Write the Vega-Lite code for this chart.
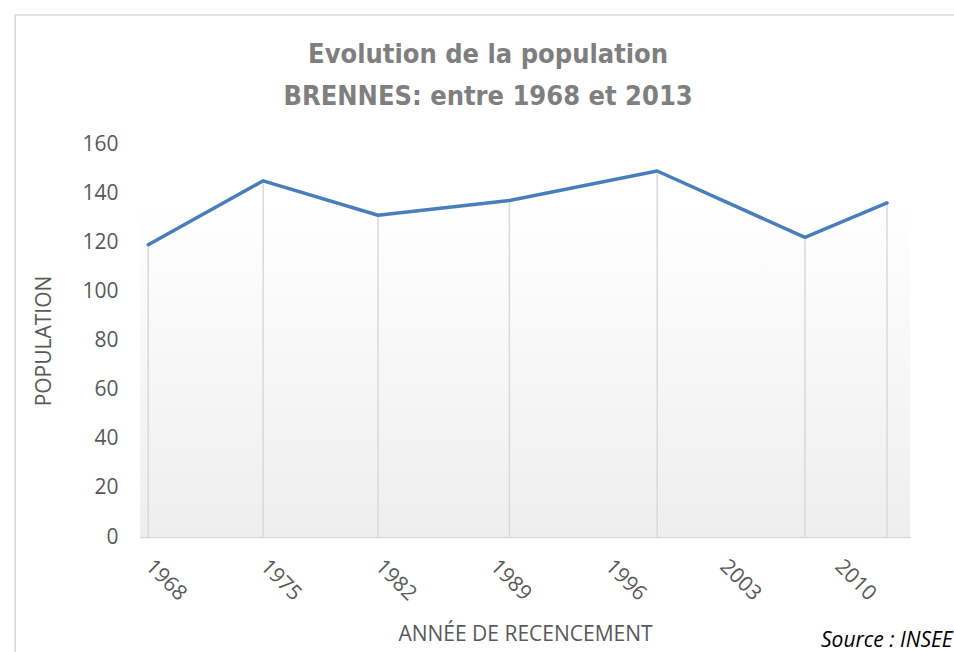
{
  "$schema": "https://vega.github.io/schema/vega-lite/v6.json",
  "width": 770,
  "height": 393,
  "autosize": {"type": "none"},
  "padding": {"left": 140, "top": 144, "right": 44, "bottom": 115},
  "background": "white",
  "config": {
    "view": {"stroke": null},
    "axis": {
      "labelFont": "Open Sans",
      "titleFont": "Open Sans",
      "labelColor": "#595959",
      "titleColor": "#595959",
      "grid": false,
      "ticks": false
    }
  },
  "data": {
    "values": [
      {"annee": 1968, "population": 119},
      {"annee": 1975, "population": 145},
      {"annee": 1982, "population": 131},
      {"annee": 1990, "population": 137},
      {"annee": 1999, "population": 149},
      {"annee": 2008, "population": 122},
      {"annee": 2013, "population": 136}
    ]
  },
  "layer": [
    {
      "data": {"values": [{"a": 1}]},
      "mark": {
        "type": "rect",
        "fill": {
          "gradient": "linear",
          "x1": 0, "y1": 0, "x2": 0, "y2": 1,
          "stops": [
            {"offset": 0, "color": "#ffffff"},
            {"offset": 0.15, "color": "#ffffff"},
            {"offset": 1, "color": "#eeeeee"}
          ]
        }
      },
      "encoding": {
        "x": {"datum": 1967.5, "type": "quantitative", "scale": {"domain": [1967.5, 2014.4], "nice": false, "zero": false},
          "axis": {
            "values": [1968, 1975, 1982, 1989, 1996, 2003, 2010],
            "format": "d",
            "title": "ANNÉE DE RECENCEMENT",
            "titleFontSize": 21,
            "titleFontWeight": "normal",
            "titlePadding": 19,
            "labelFontSize": 21,
            "labelAngle": 45,
            "labelAlign": "left",
            "labelBaseline": "middle",
            "labelPadding": 26,
            "domainColor": "#d9d9d9",
            "domainWidth": 1.5
          }
        },
        "x2": {"datum": 2014.4},
        "y": {"datum": 160, "type": "quantitative", "scale": {"domain": [0, 160], "nice": false},
          "axis": {
            "values": [0, 20, 40, 60, 80, 100, 120, 140, 160],
            "title": "POPULATION",
            "titleFontSize": 21,
            "titleFontWeight": "normal",
            "titlePadding": 27,
            "labelFontSize": 21,
            "labelPadding": 22,
            "domain": false
          }
        },
        "y2": {"datum": 0}
      }
    },
    {
      "mark": {"type": "rule", "color": "#d9d9d9", "strokeWidth": 1.5},
      "encoding": {
        "x": {"field": "annee", "type": "quantitative"},
        "y": {"field": "population", "type": "quantitative"},
        "y2": {"datum": 0}
      }
    },
    {
      "mark": {"type": "line", "color": "#4a7ebb", "strokeWidth": 3.5, "strokeJoin": "round", "strokeCap": "round"},
      "encoding": {
        "x": {"field": "annee", "type": "quantitative"},
        "y": {"field": "population", "type": "quantitative"}
      }
    },
    {
      "data": {"values": [{"label": "Evolution de la population"}]},
      "mark": {"type": "text", "font": "DejaVu Sans Condensed, Roboto, sans-serif", "fontWeight": "bold", "fontSize": 27, "color": "#7f7f7f", "align": "center", "baseline": "alphabetic"},
      "encoding": {
        "x": {"datum": 1988.7, "type": "quantitative"},
        "y": {"datum": 193, "type": "quantitative"},
        "text": {"field": "label"}
      }
    },
    {
      "data": {"values": [{"label": "BRENNES: entre 1968 et 2013"}]},
      "mark": {"type": "text", "font": "DejaVu Sans Condensed, Roboto, sans-serif", "fontWeight": "bold", "fontSize": 27, "color": "#7f7f7f", "align": "center", "baseline": "alphabetic"},
      "encoding": {
        "x": {"datum": 1988.7, "type": "quantitative"},
        "y": {"datum": 175.9, "type": "quantitative"},
        "text": {"field": "label"}
      }
    },
    {
      "data": {"values": [{"label": "Source : INSEE"}]},
      "mark": {"type": "text", "font": "Open Sans", "fontStyle": "italic", "fontSize": 21, "color": "#000000", "align": "right", "baseline": "middle"},
      "encoding": {
        "x": {"datum": 2017.0, "type": "quantitative"},
        "y": {"datum": -42.5, "type": "quantitative"},
        "text": {"field": "label"}
      }
    },
    {
      "data": {"values": [{"a": 1}]},
      "mark": {"type": "rect", "fill": null, "stroke": "#d9d9d9", "strokeWidth": 1.5},
      "encoding": {
        "x": {"datum": 1959.9, "type": "quantitative"},
        "x2": {"datum": 2022},
        "y": {"datum": 212.5, "type": "quantitative"},
        "y2": {"datum": -60}
      }
    }
  ]
}
